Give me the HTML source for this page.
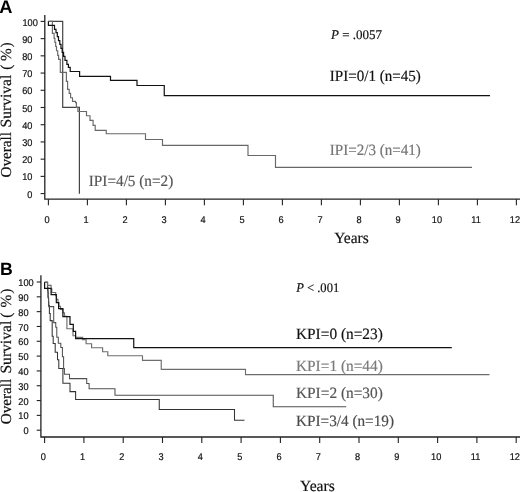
<!DOCTYPE html>
<html><head><meta charset="utf-8"><title>Overall Survival</title>
<style>
html,body{margin:0;padding:0;background:#fff;}
body{width:520px;height:492px;overflow:hidden;}
svg{display:block;text-rendering:geometricPrecision;}
.ax{font-family:"Liberation Sans",Arial,Helvetica,sans-serif;font-size:9.8px;fill:#111;stroke:#111;stroke-width:0.2px;}
.se{font-family:"Liberation Serif","Times New Roman",Times,serif;}
.pl{font-family:"Liberation Sans",Arial,Helvetica,sans-serif;font-weight:bold;font-size:17.5px;fill:#000;}
path,line{fill:none;}
</style></head><body>
<svg width="520" height="492" viewBox="0 0 520 492">
<rect x="0" y="0" width="520" height="492" fill="#fff"/>
<text class="pl" x="-0.7" y="12.9" style="font-size:18.3px">A</text>
<text class="pl" x="0" y="274.9" style="font-size:17.7px">B</text>
<path d="M44.80 14.90 V199.20 H520" stroke="#222" stroke-width="1.3"/>
<line x1="40.60" y1="193.60" x2="44.80" y2="193.60" stroke="#222" stroke-width="1.1"/>
<text class="ax" transform="translate(32.40,197.70) scale(0.94,1)" text-anchor="end">0</text>
<line x1="40.60" y1="176.38" x2="44.80" y2="176.38" stroke="#222" stroke-width="1.1"/>
<text class="ax" transform="translate(32.40,180.48) scale(0.94,1)" text-anchor="end">10</text>
<line x1="40.60" y1="159.16" x2="44.80" y2="159.16" stroke="#222" stroke-width="1.1"/>
<text class="ax" transform="translate(32.40,163.26) scale(0.94,1)" text-anchor="end">20</text>
<line x1="40.60" y1="141.94" x2="44.80" y2="141.94" stroke="#222" stroke-width="1.1"/>
<text class="ax" transform="translate(32.40,146.04) scale(0.94,1)" text-anchor="end">30</text>
<line x1="40.60" y1="124.72" x2="44.80" y2="124.72" stroke="#222" stroke-width="1.1"/>
<text class="ax" transform="translate(32.40,128.82) scale(0.94,1)" text-anchor="end">40</text>
<line x1="40.60" y1="107.50" x2="44.80" y2="107.50" stroke="#222" stroke-width="1.1"/>
<text class="ax" transform="translate(32.40,111.60) scale(0.94,1)" text-anchor="end">50</text>
<line x1="40.60" y1="90.28" x2="44.80" y2="90.28" stroke="#222" stroke-width="1.1"/>
<text class="ax" transform="translate(32.40,94.38) scale(0.94,1)" text-anchor="end">60</text>
<line x1="40.60" y1="73.06" x2="44.80" y2="73.06" stroke="#222" stroke-width="1.1"/>
<text class="ax" transform="translate(32.40,77.16) scale(0.94,1)" text-anchor="end">70</text>
<line x1="40.60" y1="55.84" x2="44.80" y2="55.84" stroke="#222" stroke-width="1.1"/>
<text class="ax" transform="translate(32.40,59.94) scale(0.94,1)" text-anchor="end">80</text>
<line x1="40.60" y1="38.62" x2="44.80" y2="38.62" stroke="#222" stroke-width="1.1"/>
<text class="ax" transform="translate(32.40,42.72) scale(0.94,1)" text-anchor="end">90</text>
<line x1="40.60" y1="21.40" x2="44.80" y2="21.40" stroke="#222" stroke-width="1.1"/>
<text class="ax" transform="translate(37.80,25.50) scale(0.94,1)" text-anchor="end">100</text>
<line x1="48.40" y1="199.20" x2="48.40" y2="205.20" stroke="#222" stroke-width="1.1"/>
<text class="ax" transform="translate(47.00,222.50) scale(0.94,1)" text-anchor="middle">0</text>
<line x1="87.40" y1="199.20" x2="87.40" y2="205.20" stroke="#222" stroke-width="1.1"/>
<text class="ax" transform="translate(86.00,222.50) scale(0.94,1)" text-anchor="middle">1</text>
<line x1="126.40" y1="199.20" x2="126.40" y2="205.20" stroke="#222" stroke-width="1.1"/>
<text class="ax" transform="translate(125.00,222.50) scale(0.94,1)" text-anchor="middle">2</text>
<line x1="165.40" y1="199.20" x2="165.40" y2="205.20" stroke="#222" stroke-width="1.1"/>
<text class="ax" transform="translate(164.00,222.50) scale(0.94,1)" text-anchor="middle">3</text>
<line x1="204.40" y1="199.20" x2="204.40" y2="205.20" stroke="#222" stroke-width="1.1"/>
<text class="ax" transform="translate(203.00,222.50) scale(0.94,1)" text-anchor="middle">4</text>
<line x1="243.40" y1="199.20" x2="243.40" y2="205.20" stroke="#222" stroke-width="1.1"/>
<text class="ax" transform="translate(242.00,222.50) scale(0.94,1)" text-anchor="middle">5</text>
<line x1="282.40" y1="199.20" x2="282.40" y2="205.20" stroke="#222" stroke-width="1.1"/>
<text class="ax" transform="translate(281.00,222.50) scale(0.94,1)" text-anchor="middle">6</text>
<line x1="321.40" y1="199.20" x2="321.40" y2="205.20" stroke="#222" stroke-width="1.1"/>
<text class="ax" transform="translate(320.00,222.50) scale(0.94,1)" text-anchor="middle">7</text>
<line x1="360.40" y1="199.20" x2="360.40" y2="205.20" stroke="#222" stroke-width="1.1"/>
<text class="ax" transform="translate(359.00,222.50) scale(0.94,1)" text-anchor="middle">8</text>
<line x1="399.40" y1="199.20" x2="399.40" y2="205.20" stroke="#222" stroke-width="1.1"/>
<text class="ax" transform="translate(398.00,222.50) scale(0.94,1)" text-anchor="middle">9</text>
<line x1="438.40" y1="199.20" x2="438.40" y2="205.20" stroke="#222" stroke-width="1.1"/>
<text class="ax" transform="translate(437.00,222.50) scale(0.94,1)" text-anchor="middle">10</text>
<line x1="477.40" y1="199.20" x2="477.40" y2="205.20" stroke="#222" stroke-width="1.1"/>
<text class="ax" transform="translate(476.00,222.50) scale(0.94,1)" text-anchor="middle">11</text>
<line x1="516.40" y1="199.20" x2="516.40" y2="205.20" stroke="#222" stroke-width="1.1"/>
<text class="ax" transform="translate(515.00,222.50) scale(0.94,1)" text-anchor="middle">12</text>
<path d="M40.90 275.30 V437.00 H520" stroke="#222" stroke-width="1.3"/>
<line x1="36.70" y1="430.20" x2="40.90" y2="430.20" stroke="#222" stroke-width="1.1"/>
<text class="ax" transform="translate(28.60,434.30) scale(0.94,1)" text-anchor="end">0</text>
<line x1="36.70" y1="415.38" x2="40.90" y2="415.38" stroke="#222" stroke-width="1.1"/>
<text class="ax" transform="translate(28.60,419.48) scale(0.94,1)" text-anchor="end">10</text>
<line x1="36.70" y1="400.56" x2="40.90" y2="400.56" stroke="#222" stroke-width="1.1"/>
<text class="ax" transform="translate(28.60,404.66) scale(0.94,1)" text-anchor="end">20</text>
<line x1="36.70" y1="385.74" x2="40.90" y2="385.74" stroke="#222" stroke-width="1.1"/>
<text class="ax" transform="translate(28.60,389.84) scale(0.94,1)" text-anchor="end">30</text>
<line x1="36.70" y1="370.92" x2="40.90" y2="370.92" stroke="#222" stroke-width="1.1"/>
<text class="ax" transform="translate(28.60,375.02) scale(0.94,1)" text-anchor="end">40</text>
<line x1="36.70" y1="356.10" x2="40.90" y2="356.10" stroke="#222" stroke-width="1.1"/>
<text class="ax" transform="translate(28.60,360.20) scale(0.94,1)" text-anchor="end">50</text>
<line x1="36.70" y1="341.28" x2="40.90" y2="341.28" stroke="#222" stroke-width="1.1"/>
<text class="ax" transform="translate(28.60,345.38) scale(0.94,1)" text-anchor="end">60</text>
<line x1="36.70" y1="326.46" x2="40.90" y2="326.46" stroke="#222" stroke-width="1.1"/>
<text class="ax" transform="translate(28.60,330.56) scale(0.94,1)" text-anchor="end">70</text>
<line x1="36.70" y1="311.64" x2="40.90" y2="311.64" stroke="#222" stroke-width="1.1"/>
<text class="ax" transform="translate(28.60,315.74) scale(0.94,1)" text-anchor="end">80</text>
<line x1="36.70" y1="296.82" x2="40.90" y2="296.82" stroke="#222" stroke-width="1.1"/>
<text class="ax" transform="translate(28.60,300.92) scale(0.94,1)" text-anchor="end">90</text>
<line x1="36.70" y1="282.00" x2="40.90" y2="282.00" stroke="#222" stroke-width="1.1"/>
<text class="ax" transform="translate(33.70,286.10) scale(0.94,1)" text-anchor="end">100</text>
<line x1="44.60" y1="437.00" x2="44.60" y2="443.00" stroke="#222" stroke-width="1.1"/>
<text class="ax" transform="translate(43.20,460.30) scale(0.94,1)" text-anchor="middle">0</text>
<line x1="83.90" y1="437.00" x2="83.90" y2="443.00" stroke="#222" stroke-width="1.1"/>
<text class="ax" transform="translate(82.50,460.30) scale(0.94,1)" text-anchor="middle">1</text>
<line x1="123.20" y1="437.00" x2="123.20" y2="443.00" stroke="#222" stroke-width="1.1"/>
<text class="ax" transform="translate(121.80,460.30) scale(0.94,1)" text-anchor="middle">2</text>
<line x1="162.50" y1="437.00" x2="162.50" y2="443.00" stroke="#222" stroke-width="1.1"/>
<text class="ax" transform="translate(161.10,460.30) scale(0.94,1)" text-anchor="middle">3</text>
<line x1="201.80" y1="437.00" x2="201.80" y2="443.00" stroke="#222" stroke-width="1.1"/>
<text class="ax" transform="translate(200.40,460.30) scale(0.94,1)" text-anchor="middle">4</text>
<line x1="241.10" y1="437.00" x2="241.10" y2="443.00" stroke="#222" stroke-width="1.1"/>
<text class="ax" transform="translate(239.70,460.30) scale(0.94,1)" text-anchor="middle">5</text>
<line x1="280.40" y1="437.00" x2="280.40" y2="443.00" stroke="#222" stroke-width="1.1"/>
<text class="ax" transform="translate(279.00,460.30) scale(0.94,1)" text-anchor="middle">6</text>
<line x1="319.70" y1="437.00" x2="319.70" y2="443.00" stroke="#222" stroke-width="1.1"/>
<text class="ax" transform="translate(318.30,460.30) scale(0.94,1)" text-anchor="middle">7</text>
<line x1="359.00" y1="437.00" x2="359.00" y2="443.00" stroke="#222" stroke-width="1.1"/>
<text class="ax" transform="translate(357.60,460.30) scale(0.94,1)" text-anchor="middle">8</text>
<line x1="398.30" y1="437.00" x2="398.30" y2="443.00" stroke="#222" stroke-width="1.1"/>
<text class="ax" transform="translate(396.90,460.30) scale(0.94,1)" text-anchor="middle">9</text>
<line x1="437.60" y1="437.00" x2="437.60" y2="443.00" stroke="#222" stroke-width="1.1"/>
<text class="ax" transform="translate(436.20,460.30) scale(0.94,1)" text-anchor="middle">10</text>
<line x1="476.90" y1="437.00" x2="476.90" y2="443.00" stroke="#222" stroke-width="1.1"/>
<text class="ax" transform="translate(475.50,460.30) scale(0.94,1)" text-anchor="middle">11</text>
<line x1="516.20" y1="437.00" x2="516.20" y2="443.00" stroke="#222" stroke-width="1.1"/>
<text class="ax" transform="translate(514.80,460.30) scale(0.94,1)" text-anchor="middle">12</text>
<path d="M48.40 21.40 L62.70 21.40 L62.70 107.30 L79.40 107.30 L79.40 193.70" stroke="#444" stroke-width="1.2"/>
<path d="M48.40 21.40 L52.40 21.40 L52.40 33.30 L54.10 33.30 L54.10 38.30 L54.90 38.30 L54.90 42.30 L55.70 42.30 L55.70 46.50 L56.50 46.50 L56.50 50.70 L57.70 50.70 L57.70 55.30 L58.60 55.30 L58.60 59.30 L60.30 59.30 L60.30 63.70 L60.30 72.30 L66.40 72.30 L66.40 81.30 L67.60 81.30 L67.60 89.30 L69.20 89.30 L69.20 93.30 L70.60 93.30 L70.60 97.70 L72.50 97.70 L72.50 101.30 L75.50 101.30 L75.50 102.60 L76.40 102.60 L76.40 107.30 L77.90 107.30 L77.90 111.50 L86.50 111.50 L86.50 115.70 L90.00 115.70 L90.00 120.40 L93.10 120.40 L93.10 125.30 L95.20 125.30 L95.20 130.30 L106.25 130.30 L106.25 133.70 L145.50 133.70 L145.50 139.50 L162.50 139.50 L162.50 145.30 L248.00 145.30 L248.00 155.50 L275.50 155.50 L275.50 167.30 L472.00 167.30" stroke="#686868" stroke-width="1.15"/>
<path d="M48.40 21.40 L48.40 25.30 L54.50 25.30 L54.50 29.30 L56.00 29.30 L56.00 32.70 L57.30 32.70 L57.30 36.70 L58.50 36.70 L58.50 40.60 L59.80 40.60 L59.80 44.40 L61.00 44.40 L61.00 48.30 L62.20 48.30 L62.20 52.30 L63.60 52.30 L63.60 56.30 L65.00 56.30 L65.00 60.30 L66.90 60.30 L66.90 64.30 L68.40 64.30 L68.40 67.30 L70.20 67.30 L70.20 71.50 L79.60 71.50 L79.60 76.30 L110.50 76.30 L110.50 80.30 L137.00 80.30 L137.00 85.50 L164.25 85.50 L164.25 95.60 L490.00 95.60" stroke="#111" stroke-width="1.2"/>
<path d="M44.60 282.30 L47.60 282.30 L47.60 290.30 L48.00 290.30 L48.00 297.70 L48.60 297.70 L48.60 305.60 L49.40 305.60 L49.40 313.40 L50.20 313.40 L50.20 320.60 L52.20 320.60 L52.20 336.30 L53.20 336.30 L53.20 343.40 L55.20 343.40 L55.20 352.30 L57.50 352.30 L57.50 359.70 L58.80 359.70 L58.80 368.40 L62.90 368.40 L62.90 383.30 L70.00 383.30 L70.00 391.60 L75.60 391.60 L75.60 399.50 L159.25 399.50 L159.25 409.50 L234.50 409.50 L234.50 420.30 L244.50 420.30" stroke="#333" stroke-width="1.05"/>
<path d="M44.60 282.30 L47.50 282.30 L47.50 287.30 L47.90 287.30 L47.90 292.30 L48.20 292.30 L48.20 296.70 L48.50 296.70 L48.50 301.70 L48.80 301.70 L48.80 306.60 L53.70 306.60 L53.70 322.60 L55.75 322.60 L55.75 327.30 L56.80 327.30 L56.80 337.30 L58.30 337.30 L58.30 343.30 L60.80 343.30 L60.80 347.50 L62.40 347.50 L62.40 356.70 L63.60 356.70 L63.60 368.40 L64.40 368.40 L64.40 374.30 L69.50 374.30 L69.50 378.60 L86.70 378.60 L86.70 383.50 L89.10 383.50 L89.10 388.70 L115.00 388.70 L115.00 395.30 L273.25 395.30 L273.25 406.70 L346.25 406.70" stroke="#505050" stroke-width="1.05"/>
<path d="M44.60 282.30 L47.50 282.30 L47.50 285.30 L51.10 285.30 L51.10 288.70 L51.80 288.70 L51.80 292.50 L55.70 292.50 L55.70 295.70 L56.50 295.70 L56.50 299.30 L58.00 299.30 L58.00 302.60 L58.90 302.60 L58.90 306.30 L60.50 306.30 L60.50 309.30 L62.90 309.30 L62.90 312.70 L64.50 312.70 L64.50 316.30 L66.90 316.30 L66.90 328.70 L73.00 328.70 L73.00 335.70 L75.60 335.70 L75.60 337.30 L82.70 337.30 L82.70 339.70 L86.10 339.70 L86.10 343.70 L91.60 343.70 L91.60 347.70 L102.60 347.70 L102.60 351.70 L107.80 351.70 L107.80 355.70 L142.50 355.70 L142.50 360.30 L161.25 360.30 L161.25 369.30 L245.50 369.30 L245.50 374.60 L489.50 374.60" stroke="#6e6e6e" stroke-width="1.15"/>
<path d="M44.60 282.30 L44.60 288.30 L51.10 288.30 L51.10 294.60 L56.30 294.60 L56.30 302.60 L58.60 302.60 L58.60 308.60 L62.90 308.60 L62.90 316.60 L70.00 316.60 L70.00 324.30 L73.30 324.30 L73.30 331.30 L75.60 331.30 L75.60 338.70 L133.75 338.70 L133.75 347.70 L451.75 347.70" stroke="#111" stroke-width="1.2"/>
<text class="se" x="331.00" y="39.00" font-size="13.20" fill="#111" stroke="#111" stroke-width="0.18" textLength="51.0" lengthAdjust="spacingAndGlyphs"><tspan font-style="italic">P</tspan> = .0057</text>
<text class="se" x="329.80" y="81.40" font-size="15.70" fill="#111" stroke="#111" stroke-width="0.18" textLength="91.0" lengthAdjust="spacingAndGlyphs">IPI=0/1 (n=45)</text>
<text class="se" x="329.80" y="154.60" font-size="15.70" fill="#747474" stroke="#747474" stroke-width="0.18" textLength="91.0" lengthAdjust="spacingAndGlyphs">IPI=2/3 (n=41)</text>
<text class="se" x="88.80" y="186.10" font-size="15.70" fill="#555" stroke="#555" stroke-width="0.18" textLength="84.5" lengthAdjust="spacingAndGlyphs">IPI=4/5 (n=2)</text>
<text class="se" x="334.20" y="243.20" font-size="15.70" fill="#111" stroke="#111" stroke-width="0.18" textLength="34.5" lengthAdjust="spacingAndGlyphs">Years</text>
<text class="se" x="296.20" y="291.60" font-size="13.20" fill="#111" stroke="#111" stroke-width="0.18" textLength="43.0" lengthAdjust="spacingAndGlyphs"><tspan font-style="italic">P</tspan> &lt; .001</text>
<text class="se" x="296.00" y="338.50" font-size="15.70" fill="#111" stroke="#111" stroke-width="0.18" textLength="86.8" lengthAdjust="spacingAndGlyphs">KPI=0 (n=23)</text>
<text class="se" x="296.00" y="370.90" font-size="15.70" fill="#7a7a7a" stroke="#7a7a7a" stroke-width="0.18" textLength="86.8" lengthAdjust="spacingAndGlyphs">KPI=1 (n=44)</text>
<text class="se" x="296.00" y="398.10" font-size="15.70" fill="#555" stroke="#555" stroke-width="0.18" textLength="86.8" lengthAdjust="spacingAndGlyphs">KPI=2 (n=30)</text>
<text class="se" x="296.00" y="425.60" font-size="15.70" fill="#4a4a4a" stroke="#4a4a4a" stroke-width="0.18" textLength="98.0" lengthAdjust="spacingAndGlyphs">KPI=3/4 (n=19)</text>
<text class="se" x="300.00" y="491.00" font-size="15.70" fill="#111" stroke="#111" stroke-width="0.18" textLength="34.8" lengthAdjust="spacingAndGlyphs">Years</text>
<g class="se" transform="translate(11.30,0) rotate(-90)" fill="#111" stroke="#111" stroke-width="0.18"><text x="-177.50" y="0" font-size="15.2">Overall</text><text x="-127.50" y="0" font-size="15.6">Survival</text><text x="-69.80" y="0" font-size="15.3">(</text><text x="-60.90" y="0" font-size="15.3">%</text><text x="-47.60" y="0" font-size="15.3">)</text></g>
<g class="se" transform="translate(11.30,0) rotate(-90)" fill="#111" stroke="#111" stroke-width="0.18"><text x="-424.30" y="0" font-size="15.2">Overall</text><text x="-373.60" y="0" font-size="15.6">Survival</text><text x="-317.80" y="0" font-size="15.3">(</text><text x="-307.60" y="0" font-size="15.3">%</text><text x="-293.70" y="0" font-size="15.3">)</text></g>
</svg>
</body></html>
